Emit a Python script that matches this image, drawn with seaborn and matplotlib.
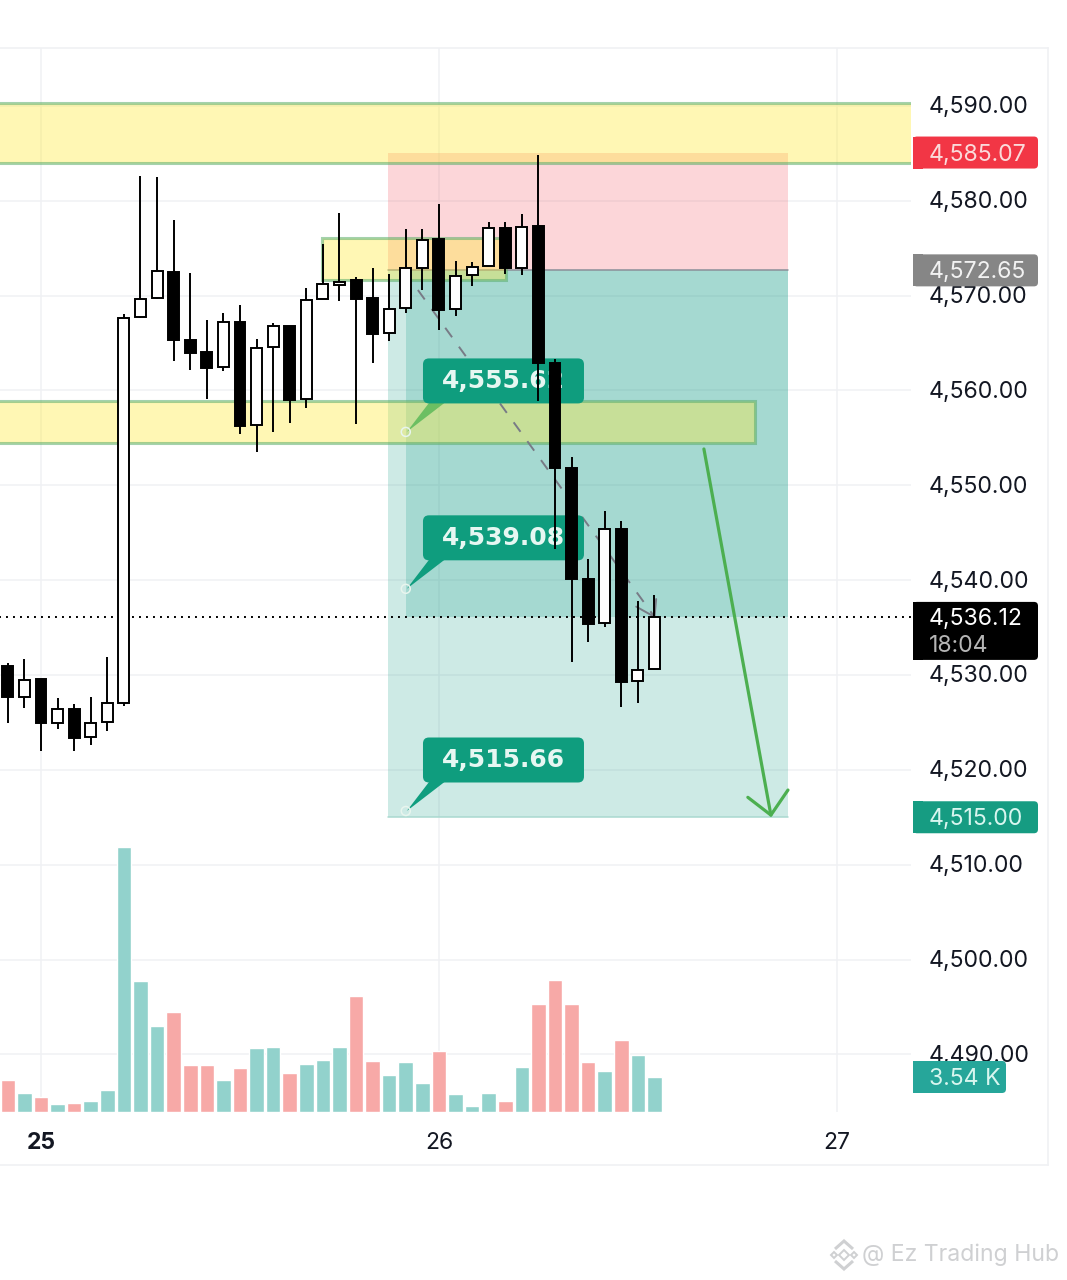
import matplotlib
matplotlib.use('Agg')
import matplotlib.pyplot as plt
import pandas as pd
import seaborn as sns
from matplotlib.patches import FancyBboxPatch, Polygon, Rectangle, Circle
from matplotlib.transforms import Affine2D, IdentityTransform, ScaledTranslation

# hours counted from the "25" tick
hours = list(range(-2, 38))
opens = [4530.94, 4527.68, 4529.57, 4524.94, 4526.41, 4523.46, 4525.04, 4527.04, 4567.73, 4569.74,
         4572.48, 4565.31, 4564.05, 4562.46, 4567.21, 4556.35, 4564.57, 4566.79, 4559.09, 4569.63,
         4571.11, 4571.63, 4569.74, 4566.05, 4568.69, 4572.90, 4575.96, 4568.58, 4572.16, 4573.11,
         4577.12, 4572.90, 4577.33, 4562.88, 4551.82, 4540.12, 4535.48, 4545.39, 4529.37, 4530.63]
highs = [4531.26, 4531.68, 4529.57, 4527.57, 4526.94, 4527.68, 4531.89, 4568.05, 4582.60, 4582.49,
         4577.96, 4572.37, 4567.42, 4568.16, 4569.00, 4565.41, 4567.10, 4566.79, 4570.79, 4575.43,
         4578.70, 4571.95, 4572.90, 4572.27, 4577.02, 4577.02, 4579.65, 4573.64, 4573.53, 4577.75,
         4577.75, 4578.59, 4584.81, 4563.31, 4552.97, 4542.22, 4547.28, 4546.22, 4537.80, 4538.43]
lows = [4524.94, 4526.52, 4521.99, 4524.30, 4521.99, 4522.62, 4524.09, 4526.73, 4567.63, 4569.63,
        4563.09, 4562.15, 4559.09, 4562.04, 4555.40, 4553.50, 4555.61, 4556.56, 4558.14, 4569.63,
        4569.42, 4556.46, 4562.88, 4565.20, 4568.16, 4570.58, 4566.36, 4567.84, 4571.00, 4573.11,
        4572.27, 4572.16, 4558.88, 4543.28, 4531.36, 4533.47, 4535.05, 4526.63, 4527.04, 4530.63]
closes = [4527.68, 4529.47, 4524.94, 4526.41, 4523.36, 4524.94, 4527.04, 4567.63, 4569.63, 4572.58,
          4565.31, 4563.94, 4562.36, 4567.21, 4556.25, 4564.47, 4566.79, 4558.98, 4569.53, 4571.21,
          4571.42, 4569.63, 4565.94, 4568.58, 4572.90, 4575.85, 4568.47, 4572.06, 4573.01, 4577.12,
          4572.90, 4577.22, 4562.88, 4551.82, 4540.12, 4535.37, 4545.39, 4529.26, 4530.52, 4536.12]
volumes = [3.24, 1.89, 1.52, 0.78, 0.94, 1.14, 2.23, 26.8, 13.2, 8.73,
           10.08, 4.75, 4.75, 3.24, 4.42, 6.44, 6.6, 3.91, 4.85, 5.26,
           6.6, 11.73, 5.16, 3.74, 5.06, 2.96, 6.14, 1.82, 0.58, 1.89,
           1.14, 4.52, 10.92, 13.35, 10.92, 5.06, 4.12, 7.28, 5.76, 3.54]

price_ticks = [4490, 4500, 4510, 4520, 4530, 4540, 4550, 4560, 4570, 4580, 4590]
day_ticks = [0, 24, 48]
day_labels = ['25', '26', '27']

stop_price = 4585.07
entry_price = 4572.65
last_price = 4536.12
target_price = 4515.00
countdown = '18:04'
volume_label = '3.54 K'
callout_prices = [4555.62, 4539.08, 4515.66]
callout_tails = ['#6CBF62', '#0F9D7E', '#0F9D7E']

# (left hour, right hour, bottom price, top price)
zones = [(-5, 60, 4584.0, 4590.3),
         (-5, 43.05, 4554.45, 4558.88),
         (16.95, 28.04, 4571.63, 4576.06)]

W, H = 1067, 1280
AX_RIGHT, AX_TOP, AX_BOTTOM = 911, 48, 1112
TEXT = '#131722'
GRID = '#F0F1F4'

sns.set_style('white')
plt.rcParams['font.family'] = ['Inter', 'DejaVu Sans']

# image pixels, y going down
px = Affine2D().scale(1, -1).translate(0, H)
screen = IdentityTransform()


def make_axes(fig):
    rect = [0, (H - AX_BOTTOM) / H, AX_RIGHT / W, (AX_BOTTOM - AX_TOP) / H]
    frame = fig.add_axes([0, (H - 1165) / H, 1048 / W, (1165 - 48) / H], zorder=-1)
    frame.set_xticks([])
    frame.set_yticks([])
    frame.spines['left'].set_visible(False)
    for s in ['top', 'right', 'bottom']:
        frame.spines[s].set_color(GRID)
        frame.spines[s].set_linewidth(1.2)
    ax = fig.add_axes(rect, zorder=0)
    ax.patch.set_visible(False)
    # volume sits above the grid lines of the price pane
    vol_ax = fig.add_axes(rect, zorder=1)
    return ax, vol_ax


def plot_volume(vol_ax):
    df = pd.DataFrame({'hour': hours, 'volume': volumes,
                       'dir': ['up' if c >= o else 'down' for o, c in zip(opens, closes)]})
    sns.barplot(data=df, x='hour', y='volume', hue='dir', native_scale=True, dodge=False,
                width=0.88, saturation=1, legend=False, ax=vol_ax,
                palette={'up': '#92D2CC', 'down': '#F7A9A7'})
    vol_ax.set_xlim(-2.473, 52.47)
    vol_ax.set_ylim(0, 107.6)
    vol_ax.set_xlabel('')
    vol_ax.set_ylabel('')
    vol_ax.set_xticks([])
    vol_ax.set_yticks([])
    vol_ax.patch.set_visible(False)
    sns.despine(ax=vol_ax, left=True, bottom=True)


def setup_price_axis(fig, ax):
    ax.set_xlim(-2.473, 52.47)
    ax.set_ylim(4483.93, 4596.09)
    ax.yaxis.tick_right()
    ax.set_yticks(price_ticks)
    ax.set_yticklabels([f'{p:,.2f}' for p in price_ticks])
    ax.set_xticks(day_ticks)
    ax.set_xticklabels(day_labels)
    ax.tick_params(axis='y', length=0, pad=12.5, labelsize=16.6, labelcolor=TEXT)
    ax.tick_params(axis='x', length=0, pad=14.5, labelsize=16.5, labelcolor=TEXT)
    # price labels sit a pixel above their grid line
    nudge = ScaledTranslation(0, 1 / 100, fig.dpi_scale_trans)
    for label in ax.get_yticklabels():
        label.set_transform(label.get_transform() + nudge)
    ax.get_xticklabels()[0].set_fontweight('bold')
    ax.grid(True, color=GRID, linewidth=1.1)
    ax.set_axisbelow(True)
    for s in ax.spines.values():
        s.set_visible(False)


def plot_position(ax):
    ax.add_patch(Rectangle((20.93, entry_price), 24.12, stop_price - entry_price,
                           facecolor='#F23645', alpha=0.2, lw=0, zorder=2))
    ax.add_patch(Rectangle((20.93, target_price), 24.12, entry_price - target_price,
                           facecolor='#089981', alpha=0.2, lw=0, zorder=2))
    ax.add_patch(Rectangle((22, last_price), 23.05, entry_price - last_price,
                           facecolor='#089981', alpha=0.2, lw=0, zorder=2))
    ax.plot([20.93, 45.05], [entry_price, entry_price], color='#8A8F98', lw=1.1, zorder=2.1)
    ax.plot([20.93, 45.05], [target_price, target_price], color='#A9D9CF', lw=1.1, zorder=2.1)
    for left, right, bottom, top in zones:
        ax.add_patch(Rectangle((left, bottom), right - left, top - bottom,
                               facecolor=(1, 0.92, 0.23, 0.38),
                               edgecolor=(0.35, 0.68, 0.42, 0.55), lw=2.2, zorder=3))


def plot_drawings(ax):
    ax.plot([-5, 60], [last_price, last_price], color='black', lw=1.4,
            linestyle=(0, (1, 2.6)), zorder=3.5)
    ax.plot([22.73, 37], [4570.58, last_price], color='#787B86', lw=1.4,
            linestyle=(0, (6, 6)), zorder=3.6)
    ax.plot([35.9, 37, 37.1], [4537.2, last_price, 4538.0], color='#787B86', lw=1.4, zorder=3.6)
    ax.plot([39.98, 44.02], [4553.82, 4515.23], color='#4CAF50', lw=2.3, zorder=4)
    ax.plot([42.63, 44.02, 45.05], [4517.1, 4515.23, 4517.87], color='#4CAF50', lw=2.3, zorder=4)


def plot_callouts(ax):
    for price, tail in zip(callout_prices, callout_tails):
        cx, cy = ax.transData.transform((22, price))
        cy = H - cy
        ax.add_patch(Polygon([(cx + 24, cy - 30), (cx + 40, cy - 30), (cx + 1, cy)], closed=True,
                             facecolor=tail, lw=0, transform=px, clip_on=False, zorder=5))
        ax.add_patch(FancyBboxPatch((cx + 18.7, cy - 72), 158, 42, boxstyle='round,pad=1.5,rounding_size=6',
                                    facecolor='#0F9D7E', lw=0, transform=px, clip_on=False, zorder=5))
        ax.text(cx + 98, cy - 51, f'{price:,.2f}', color='#E6F7F2', fontsize=18, fontweight='bold',
                family='DejaVu Sans', ha='center', va='center', transform=px, zorder=5.5)
        ax.add_patch(Circle((cx, cy), 4.5, facecolor='none', edgecolor='#E8F5EE', lw=1.1,
                            transform=px, zorder=5.6))


def plot_candles(ax):
    for h, o, hi, lo, c in zip(hours, opens, highs, lows, closes):
        ax.vlines(h, lo, hi, color='black', lw=1.4, zorder=6)
        face = 'black' if c < o else 'white'
        ax.bar(h, abs(c - o), bottom=min(o, c), width=0.66, color=face, edgecolor='black', lw=1.4, zorder=7)


def price_tag(fig, ytop, ybottom, right, color):
    fig.add_artist(FancyBboxPatch((916, ytop + 3), right - 919, ybottom - ytop - 6,
                                  boxstyle='round,pad=3,rounding_size=4', facecolor=color, lw=0,
                                  transform=px, zorder=10))
    fig.add_artist(Rectangle((913, ytop), 10, ybottom - ytop, facecolor=color, lw=0, transform=px, zorder=10))


def tag_text(fig, y, label, color):
    fig.text(929, H - y - 2, label, color=color, fontsize=16.6, va='center', zorder=11, transform=screen)


def plot_tags(fig, ax, vol_ax):
    tags = [(stop_price, '#F23645', '#FBDADA'), (entry_price, '#868686', '#F2F2F2'),
            (target_price, '#169C82', '#D8F6EF')]
    for price, color, text_color in tags:
        y = H - ax.transData.transform((0, price))[1]
        price_tag(fig, y - 16, y + 16, 1038, color)
        tag_text(fig, y, f'{price:,.2f}', text_color)
    y = H - ax.transData.transform((0, last_price))[1]
    price_tag(fig, y - 15, y + 43, 1038, 'black')
    tag_text(fig, y, f'{last_price:,.2f}', 'white')
    tag_text(fig, y + 27, countdown, '#B5B5B5')
    y = H - vol_ax.transData.transform((0, volumes[-1]))[1]
    price_tag(fig, y - 16, y + 16, 1006, '#26A69A')
    tag_text(fig, y, volume_label, '#D8F6EF')


def plot_watermark(fig):
    grey = '#CFD0D2'
    cx, cy = 844, 1255
    # exchange logo: chevrons top and bottom, small diamonds in the middle
    chevrons = [[(cx - 9, cy - 6), (cx, cy - 14), (cx + 9, cy - 6)],
                [(cx - 9, cy + 6), (cx, cy + 14), (cx + 9, cy + 6)]]
    for pts in chevrons:
        fig.add_artist(Polygon(pts, closed=False, facecolor='none', edgecolor=grey, lw=2.2,
                               transform=px, zorder=10))
    for dx, size in [(-10, 3), (0, 5), (10, 3)]:
        fig.add_artist(Polygon([(cx + dx - size, cy), (cx + dx, cy - size), (cx + dx + size, cy), (cx + dx, cy + size)],
                               closed=True, facecolor='none', edgecolor=grey, lw=1.4,
                               transform=px, zorder=10))
    fig.text(862, H - 1255, '@ Ez Trading Hub', color=grey, fontsize=16.6, va='center', zorder=11,
             transform=screen)


if __name__ == '__main__':
    fig = plt.figure(figsize=(W / 100, H / 100), dpi=100, facecolor='white')
    ax, vol_ax = make_axes(fig)
    plot_volume(vol_ax)
    setup_price_axis(fig, ax)
    plot_position(ax)
    plot_drawings(ax)
    plot_callouts(ax)
    plot_candles(ax)
    plot_tags(fig, ax, vol_ax)
    plot_watermark(fig)
    fig.savefig('out.png', dpi=100)
